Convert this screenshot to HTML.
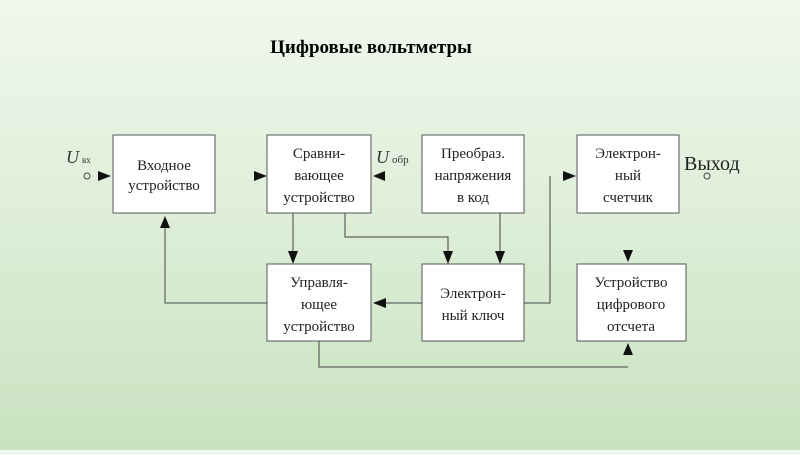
<!DOCTYPE html>
<html><head><meta charset="utf-8"><style>
html,body{margin:0;padding:0}
body{width:800px;height:450px;overflow:hidden;background:linear-gradient(#f0f7ed,#ddeed7 50%,#c8e2c0);font-family:"Liberation Serif","Noto Serif CJK SC",serif}
</style></head><body>
<svg width="800" height="450" xmlns="http://www.w3.org/2000/svg">
<text x="371" y="53" text-anchor="middle" font-family="Liberation Serif, serif" font-weight="bold" font-size="19">Цифровые вольтметры</text>
<g fill="#fff" stroke="#555" stroke-width="1">
<rect x="113" y="135" width="102" height="78"/>
<rect x="267" y="135" width="104" height="78"/>
<rect x="422" y="135" width="102" height="78"/>
<rect x="577" y="135" width="102" height="78"/>
<rect x="267" y="264" width="104" height="77"/>
<rect x="422" y="264" width="102" height="77"/>
<rect x="577" y="264" width="109" height="77"/>
</g>
<g fill="none" stroke="#444" stroke-width="1">
<polyline points="267,303 165,303 165,228"/>
<line x1="293" y1="213" x2="293" y2="252"/>
<polyline points="345,213 345,237 448,237 448,252"/>
<line x1="500" y1="213" x2="500" y2="252"/>
<polyline points="524,303 550,303 550,176"/>
<line x1="422" y1="303" x2="385" y2="303"/>
<polyline points="319,341 319,367 628,367"/>
<circle cx="87" cy="176" r="3"/>
<circle cx="707" cy="176" r="3"/>
</g>
<g fill="#111">
<polygon points="160,228 170,228 165,216"/>
<polygon points="288,251 298,251 293,264"/>
<polygon points="443,251 453,251 448,264"/>
<polygon points="495,251 505,251 500,264"/>
<polygon points="386,298 386,308 373,303"/>
<polygon points="98,171 98,181 111,176"/>
<polygon points="254,171 254,181 267,176"/>
<polygon points="385,171 385,181 373,176"/>
<polygon points="563,171 563,181 576,176"/>
<polygon points="623,250 633,250 628,262"/>
<polygon points="623,355 633,355 628,343"/>
</g>
<g font-size="15" text-anchor="middle" fill="#222">
<text x="164" y="170">Входное</text><text x="164" y="190">устройство</text>
<text x="319" y="158">Сравни-</text><text x="319" y="180">вающее</text><text x="319" y="202">устройство</text>
<text x="473" y="158">Преобраз.</text><text x="473" y="180">напряжения</text><text x="473" y="202">в код</text>
<text x="628" y="158">Электрон-</text><text x="628" y="180">ный</text><text x="628" y="202">счетчик</text>
<text x="319" y="287">Управля-</text><text x="319" y="309">ющее</text><text x="319" y="331">устройство</text>
<text x="473" y="298">Электрон-</text><text x="473" y="320">ный ключ</text>
<text x="631" y="287">Устройство</text><text x="631" y="309">цифрового</text><text x="631" y="331">отсчета</text>
</g>
<text x="66" y="163" font-size="18" font-style="italic" fill="#333">U</text>
<text x="82" y="163" font-size="9" fill="#333">вх</text>
<text x="376" y="163" font-size="18" font-style="italic" fill="#333">U</text>
<text x="392" y="163" font-size="11" fill="#333">обр</text>
<text x="684" y="170" font-size="20" fill="#222">Выход</text>
</svg>
</body></html>
